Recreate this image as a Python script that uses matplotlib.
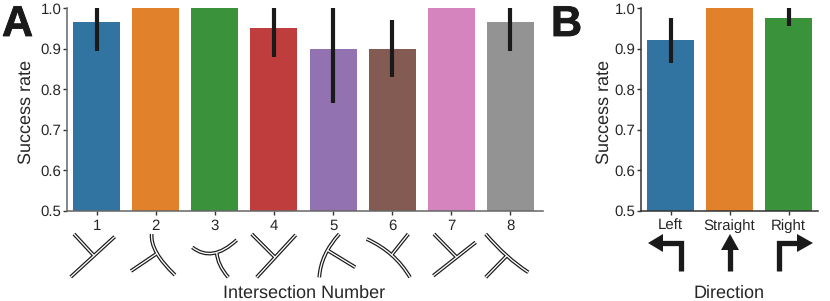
import matplotlib
matplotlib.use("Agg")
import matplotlib.pyplot as plt
import matplotlib.patheffects as pe
from matplotlib.path import Path
from matplotlib.patches import PathPatch, Polygon

plt.rcParams['font.family'] = ['Liberation Sans', 'DejaVu Sans']
plt.rcParams['text.hinting'] = 'no_hinting'

W, H = 830, 301

# panel A data
intersections = ["1", "2", "3", "4", "5", "6", "7", "8"]
rate_a = [0.965, 1.0, 1.0, 0.95, 0.9, 0.9, 1.0, 0.965]
low_a = [0.895, 1.0, 1.0, 0.88, 0.765, 0.83, 1.0, 0.895]
high_a = [1.0, 1.0, 1.0, 1.0, 1.0, 0.97, 1.0, 1.0]
colors_a = ["#3274a1", "#e1812c", "#3a923a", "#c03d3e", "#9372b2", "#845b53", "#d684bd", "#939393"]

# panel B data
directions = ["Left", "Straight", "Right"]
rate_b = [0.92, 1.0, 0.975]
low_b = [0.865, 1.0, 0.955]
high_b = [0.975, 1.0, 1.0]
colors_b = ["#3274a1", "#e1812c", "#3a923a"]

yticks = [0.5, 0.6, 0.7, 0.8, 0.9, 1.0]

# road sketches under panel A, in pixels of the picture (3 points = curve through the middle one)
roads = [
    [(70.7, 277), (114.7, 236.7)], [(74, 234), (94.3, 256)],
    [(151.7, 234), (156.7, 253), (175, 275)], [(131, 271), (157.2, 253.3)],
    [(192.3, 247.3), (213.3, 253.3), (236.7, 240)], [(216.7, 252.5), (220, 265), (228.3, 277.3)],
    [(256.7, 277.3), (295.7, 235)], [(251.7, 234), (275.2, 257.5)],
    [(319.3, 277.3), (325, 255), (339.3, 234)], [(327, 250), (355.3, 267.3)],
    [(366.7, 239), (391.7, 255), (410, 277.3)], [(408.3, 234), (391.5, 255)],
    [(433.3, 275.7), (475.7, 242.3)], [(434, 234), (457, 257.5)],
    [(485.7, 234), (506.7, 255.7), (528.3, 272.3)], [(485.7, 277.3), (507, 255.5)],
]

fig = plt.figure(figsize=(W / 100, H / 100), dpi=100)


def panel(left, right, xlim, names, rates, lows, highs, colors, spine_col):
    ax = fig.add_axes([left / W, 1 - 210.5 / H, (right - left) / W, 202.5 / H])
    x = list(range(len(names)))
    ax.bar(x, rates, width=0.795, color=colors, linewidth=0)
    ax.vlines(x, lows, highs, color="#1a1a1a", linewidth=3)
    ax.set_xlim(*xlim)
    ax.set_ylim(0.5, 1.0)
    ax.set_xticks(x)
    ax.set_xticklabels(names)
    ax.set_yticks(yticks)
    ax.set_yticklabels(["%.1f" % t for t in yticks])
    ax.tick_params(labelsize=10.8, length=3.2, width=1, color="#333333", labelcolor="#262626")
    ax.tick_params(axis="x", pad=3)
    ax.tick_params(axis="y", pad=0.8)
    ax.spines['top'].set_visible(False)
    ax.spines['right'].set_visible(False)
    for s in ['left', 'bottom']:
        ax.spines[s].set_color(spine_col)
        ax.spines[s].set_linewidth(1.1)
    return ax


panel(67, 543, (-0.5, 7.55), intersections, rate_a, low_a, high_a, colors_a, "#666666")
panel(641, 818, (-0.5, 2.5), directions, rate_b, low_b, high_b, colors_b, "#333333")

# overlay in picture pixels for sketches, arrows and labels
over = fig.add_axes([0, 0, 1, 1])
over.set_xlim(0, W)
over.set_ylim(H, 0)
over.axis("off")
over.patch.set_alpha(0)


def road_path(pts):
    if len(pts) == 2:
        return Path(pts, [Path.MOVETO, Path.LINETO])
    a, m, b = pts
    ctrl = (2 * m[0] - (a[0] + b[0]) / 2, 2 * m[1] - (a[1] + b[1]) / 2)
    return Path([a, ctrl, b], [Path.MOVETO, Path.CURVE3, Path.CURVE3])


for lw, col, z in [(2.7, "#1a1a1a", 2), (0.95, "white", 3)]:
    for pts in roads:
        over.add_patch(PathPatch(road_path(pts), fill=False, edgecolor=col, linewidth=lw,
                                 capstyle="butt", zorder=z))

# direction arrows
arrow_col = "#1a1a1a"
over.plot([681, 681, 660], [271, 243, 243], color=arrow_col, lw=3.8, solid_joinstyle="miter", solid_capstyle="butt")
over.add_patch(Polygon([(648, 243), (663, 234), (663, 252)], color=arrow_col, lw=0))
over.plot([730, 730], [271, 248], color=arrow_col, lw=3.8, solid_capstyle="butt")
over.add_patch(Polygon([(730, 234), (721, 250), (739, 250)], color=arrow_col, lw=0))
over.plot([779, 779, 800], [271, 243, 243], color=arrow_col, lw=3.8, solid_joinstyle="miter", solid_capstyle="butt")
over.add_patch(Polygon([(813, 243), (797, 234), (797, 252)], color=arrow_col, lw=0))

# axis titles and panel letters
txt = "#262626"
over.text(26, 112, "Success rate", rotation=90, ha="center", va="center", fontsize=13, color=txt)
over.text(604, 112, "Success rate", rotation=90, ha="center", va="center", fontsize=13, color=txt)
over.text(304, 298, "Intersection Number", ha="center", va="baseline", fontsize=13, color=txt)
over.text(729, 298, "Direction", ha="center", va="baseline", fontsize=13, color=txt)
heavy = [pe.withStroke(linewidth=0.6, foreground="#1a1a1a")]
over.text(2, 36, "A", ha="left", va="baseline", fontsize=31, fontweight="bold", color="#1a1a1a", path_effects=heavy)
over.text(551, 36, "B", ha="left", va="baseline", fontsize=31, fontweight="bold", color="#1a1a1a", path_effects=heavy)

fig.savefig("out.png", dpi=100)
